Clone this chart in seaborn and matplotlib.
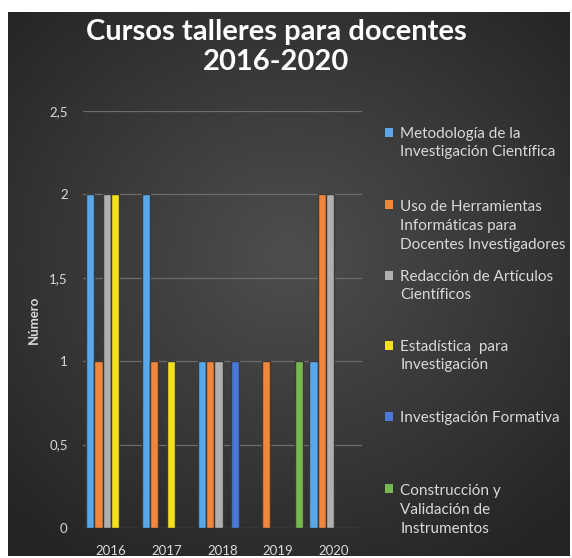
import numpy as np
import pandas as pd
import matplotlib
matplotlib.use("Agg")
import matplotlib.pyplot as plt
from matplotlib.patches import Rectangle
from matplotlib.legend_handler import HandlerPatch
import seaborn as sns

# ── data ────────────────────────────────────────────────────────────────
years = ["2016", "2017", "2018", "2019", "2020"]
cursos = [
    "Metodología de la\nInvestigación Científica",
    "Uso de Herramientas\nInformáticas para\nDocentes Investigadores",
    "Redacción de Artículos\nCientíficos",
    "Estadística  para\nInvestigación",
    "Investigación Formativa",
    "Construcción y\nValidación de\nInstrumentos",
]
metodologia = [2, 2, 1, 0, 1]
herramientas = [1, 1, 1, 1, 2]
redaccion = [2, 0, 1, 0, 2]
estadistica = [2, 1, 0, 0, 0]
formativa = [0, 0, 1, 0, 0]
construccion = [0, 0, 0, 1, 0]
y_ticks = [0, 0.5, 1, 1.5, 2, 2.5]
y_ticklabels = ["0", "0,5", "1", "1,5", "2", "2,5"]

series = [metodologia, herramientas, redaccion, estadistica, formativa, construccion]
df = pd.DataFrame(
    [(y, c, s[i]) for c, s in zip(cursos, series) for i, y in enumerate(years)],
    columns=["Año", "Curso", "Número"],
)

colors = ["#5aa8ea", "#f0873c", "#b0b0b0", "#f5e01e", "#4a78d8", "#78b850"]
txt = "#d9d9d9"
FONT = ["Lato", "DejaVu Sans"]

# ── figure / dark gradient panel ───────────────────────────────────────────
W, H = 572, 558
fig = plt.figure(figsize=(W / 100, H / 100), dpi=100)
fig.patch.set_facecolor("white")

bg = fig.add_axes([8 / W, 2 / H, 562 / W, 544 / H], zorder=0)
gx, gy = np.meshgrid(np.linspace(-1, 1, 300), np.linspace(-1, 1, 300))
r = np.clip(np.sqrt((gx * 0.95) ** 2 + ((gy + 0.1) * 1.0) ** 2) / 1.35, 0, 1)
lo, hi = np.array([0x24, 0x24, 0x24]) / 255, np.array([0x4e, 0x4e, 0x4e]) / 255
img = hi[None, None, :] * (1 - r[..., None]) + lo[None, None, :] * r[..., None]
bg.imshow(img, aspect="auto", extent=(0, 1, 0, 1))
bg.set_axis_off()

ax = fig.add_axes([83 / W, 1 - 528 / H, 279 / W, 417 / H], zorder=1)
ax.set_facecolor("none")

sns.barplot(
    data=df, x="Año", y="Número", hue="Curso", hue_order=cursos,
    palette=colors, saturation=1, width=0.89, errorbar=None,
    edgecolor="#3a3a3a", linewidth=1.0, ax=ax, zorder=3, legend=False,
)
for p in ax.patches:
    if p.get_height() == 0:
        p.set_visible(False)

ax.set_xlim(-0.5, 4.5)
ax.set_ylim(0, 2.5)
ax.set_yticks(y_ticks)
ax.set_yticklabels(y_ticklabels)
ax.grid(axis="y", color="#6c6c6c", linewidth=0.9, zorder=0)
ax.set_axisbelow(True)
for s in ax.spines.values():
    s.set_visible(False)
ax.tick_params(length=0, colors=txt, labelsize=9.5)
ax.tick_params(axis="x", pad=12)
ax.tick_params(axis="y", pad=11)
for t in ax.get_xticklabels() + ax.get_yticklabels():
    t.set_family(FONT)
ax.set_xlabel("")
ax.set_ylabel("Número", color=txt, fontsize=9.5, fontweight="bold", family=FONT, labelpad=7)

# ── title ────────────────────────────────────────────────────────────────
fig.text(276 / W, 1 - 47 / H, "Cursos talleres para docentes\n2016-2020",
         ha="center", va="center", color="white", fontsize=21, fontweight="bold",
         family=FONT, linespacing=1.2)

# ── legend: one box per entry, marker aligned with first line ───────────────
LEG_FS = 11
LINESP = 1.42
entry_y = [143, 226, 286, 356, 418, 510]


def first_line_patch(nlines):
    def make(legend, orig_handle, xdescent, ydescent, width, height, fontsize):
        shift = (nlines - 1) / 2 * LINESP * fontsize
        return Rectangle((-xdescent, -ydescent + shift), width, height)
    return make


for c, lab, yc in zip(colors, cursos, entry_y):
    n = lab.count("\n") + 1
    h = Rectangle((0, 0), 1, 1, facecolor=c, edgecolor="none")
    leg = fig.legend(
        handles=[h], labels=[lab], loc="center left",
        bbox_to_anchor=(385 / W, 1 - yc / H), frameon=False,
        labelcolor=txt, borderpad=0, borderaxespad=0,
        handlelength=0.55, handleheight=0.55, handletextpad=0.45,
        prop={"family": FONT, "size": LEG_FS},
        handler_map={Rectangle: HandlerPatch(patch_func=first_line_patch(n))},
    )
    for t in leg.get_texts():
        t.set_linespacing(LINESP)
    leg.set_zorder(5)

fig.savefig("out.png", dpi=100)
